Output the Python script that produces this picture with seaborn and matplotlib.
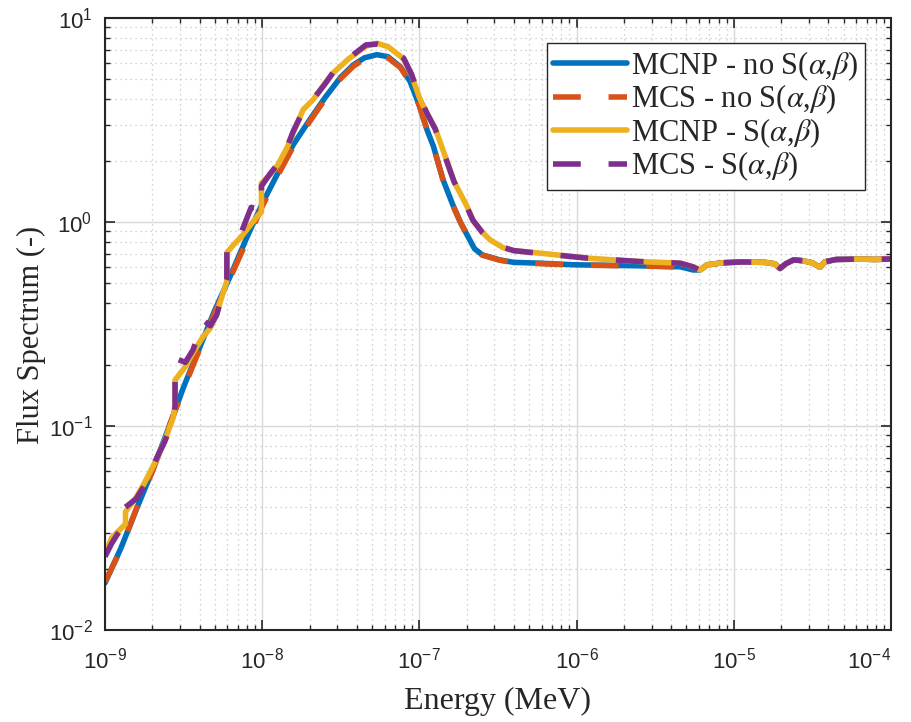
import matplotlib
matplotlib.use("Agg")
import matplotlib.pyplot as plt
import seaborn as sns
from matplotlib.ticker import FixedLocator, LogLocator, NullFormatter, LogFormatterSciNotation

# ---------------- data ----------------
# without S(alpha,beta)
E_nos = [1.00e-9, 1.26e-9, 1.58e-9, 2.00e-9, 2.51e-9, 3.16e-9, 3.98e-9, 5.01e-9,
         6.31e-9, 7.94e-9, 1.00e-8, 1.26e-8, 1.58e-8, 2.00e-8, 2.51e-8, 3.16e-8,
         3.80e-8, 4.47e-8, 5.37e-8, 6.31e-8, 7.59e-8, 8.71e-8, 1.00e-7, 1.12e-7,
         1.23e-7, 1.41e-7, 1.62e-7, 1.82e-7, 2.00e-7, 2.24e-7, 2.51e-7, 3.24e-7,
         3.98e-7, 5.89e-7, 9.55e-7, 2.51e-6, 4.57e-6, 5.50e-6, 6.10e-6, 6.76e-6,
         8.51e-6, 1.12e-5, 1.58e-5, 1.82e-5, 1.97e-5, 2.14e-5, 2.40e-5, 2.75e-5,
         3.16e-5, 3.53e-5, 3.80e-5, 4.47e-5, 6.31e-5, 7.94e-5, 1.00e-4]
flux_mcnp_nos = [0.0170, 0.0251, 0.0389, 0.0603, 0.0955, 0.155, 0.240, 0.372,
                 0.550, 0.832, 1.23, 1.74, 2.40, 3.16, 4.07, 5.13,
                 5.89, 6.38, 6.61, 6.46, 5.75, 4.90, 3.72, 2.82,
                 2.34, 1.62, 1.23, 1.00, 0.871, 0.740, 0.690, 0.652,
                 0.634, 0.628, 0.617, 0.610, 0.603, 0.582, 0.582, 0.617,
                 0.631, 0.637, 0.634, 0.624, 0.592, 0.624, 0.652, 0.646,
                 0.631, 0.600, 0.638, 0.655, 0.658, 0.655, 0.659]
flux_mcs_nos = [0.0172, 0.0248, 0.0392, 0.0598, 0.0960, 0.152, 0.236, 0.362,
                0.540, 0.800, 1.19, 1.70, 2.35, 3.10, 4.00, 5.05,
                5.80, 6.30, 6.50, 6.38, 5.70, 4.85, 3.70, 2.82,
                2.34, 1.62, 1.22, 1.00, 0.871, 0.742, 0.688, 0.650,
                0.632, 0.625, 0.615, 0.609, 0.602, 0.584, 0.580, 0.617,
                0.631, 0.637, 0.634, 0.624, 0.592, 0.624, 0.652, 0.646,
                0.631, 0.600, 0.638, 0.655, 0.658, 0.655, 0.659]

# with S(alpha,beta)
E_s = [1.00e-9, 1.10e-9, 1.20e-9, 1.35e-9, 1.35e-9, 1.58e-9, 1.78e-9, 2.14e-9,
       2.40e-9, 2.72e-9, 2.79e-9, 2.79e-9, 3.24e-9, 3.63e-9, 4.22e-9, 4.68e-9,
       5.13e-9, 5.62e-9, 5.96e-9, 5.96e-9, 6.61e-9, 7.41e-9, 8.51e-9, 9.33e-9,
       9.89e-9, 9.89e-9, 1.12e-8, 1.26e-8, 1.45e-8, 1.58e-8, 1.82e-8, 2.11e-8,
       2.51e-8, 2.82e-8, 3.55e-8, 4.57e-8, 5.37e-8, 6.31e-8, 7.94e-8, 8.91e-8,
       1.00e-7, 1.12e-7, 1.26e-7, 1.48e-7, 1.66e-7, 1.82e-7, 2.00e-7, 2.19e-7,
       2.51e-7, 2.82e-7, 3.39e-7, 3.98e-7, 5.89e-7, 1.20e-6, 2.51e-6, 4.57e-6,
       5.50e-6, 6.10e-6, 6.76e-6, 8.51e-6, 1.12e-5, 1.58e-5, 1.82e-5, 1.97e-5,
       2.14e-5, 2.40e-5, 2.75e-5, 3.16e-5, 3.53e-5, 3.80e-5, 4.47e-5, 6.31e-5,
       7.94e-5, 1.00e-4]
flux_mcnp_s = [0.0234, 0.0282, 0.0302, 0.0331, 0.0380, 0.0447, 0.0525, 0.0692,
               0.0851, 0.110, 0.126, 0.168, 0.195, 0.229, 0.275, 0.302,
               0.355, 0.447, 0.513, 0.708, 0.776, 0.851, 0.977, 1.07,
               1.12, 1.55, 1.70, 1.91, 2.34, 2.75, 3.55, 3.98,
               4.79, 5.37, 6.31, 7.28, 7.52, 7.24, 6.31, 5.25,
               4.07, 3.39, 2.88, 2.04, 1.58, 1.38, 1.20, 1.02,
               0.891, 0.817, 0.750, 0.724, 0.703, 0.664, 0.640, 0.628,
               0.603, 0.582, 0.617, 0.631, 0.637, 0.634, 0.624, 0.592,
               0.624, 0.652, 0.646, 0.631, 0.600, 0.638, 0.655, 0.658,
               0.655, 0.659]
flux_mcs_s = [0.0229, 0.0265, 0.0295, 0.0330, 0.0400, 0.0440, 0.0510, 0.0700,
              0.0840, 0.108, 0.125, 0.215, 0.205, 0.236, 0.330, 0.310,
              0.350, 0.450, 0.520, 0.740, 0.780, 0.900, 1.18, 1.16,
              1.14, 1.50, 1.72, 1.93, 2.36, 2.80, 3.50, 4.00,
              4.75, 5.40, 6.35, 7.38, 7.45, 7.20, 6.35, 5.30,
              4.10, 3.40, 2.86, 2.02, 1.58, 1.37, 1.19, 1.02,
              0.890, 0.815, 0.752, 0.724, 0.701, 0.664, 0.640, 0.628,
              0.603, 0.580, 0.617, 0.631, 0.637, 0.634, 0.624, 0.592,
              0.624, 0.652, 0.646, 0.631, 0.600, 0.638, 0.655, 0.658,
              0.655, 0.659]

labels = [r"MCNP - no S($\alpha$,$\beta$)", r"MCS - no S($\alpha$,$\beta$)",
          r"MCNP - S($\alpha$,$\beta$)", r"MCS - S($\alpha$,$\beta$)"]
colors = ["#0072BD", "#D95319", "#EDB120", "#7E2F8E"]
x_ticks = [1e-9, 1e-8, 1e-7, 1e-6, 1e-5, 1e-4]
y_ticks = [1e-2, 1e-1, 1e0, 1e1]
x_label = "Energy (MeV)"
y_label = "Flux Spectrum (-)"

# ---------------- style ----------------
sns.set_theme(style="ticks")
plt.rcParams["font.family"] = ["Liberation Serif", "DejaVu Serif"]
plt.rcParams["mathtext.fontset"] = "stix"
plt.rcParams["axes.unicode_minus"] = True

fig = plt.figure(figsize=(9.11, 7.22), dpi=100)
ax = fig.add_axes([105 / 911, 1 - 630 / 722, 786 / 911, 612 / 722])

series = [(E_nos, flux_mcnp_nos, False), (E_nos, flux_mcs_nos, True),
          (E_s, flux_mcnp_s, False), (E_s, flux_mcs_s, True)]
for (xs, ys, dashed), lab, col in zip(series, labels, colors):
    sns.lineplot(x=xs, y=ys, ax=ax, color=col, lw=4, label=lab,
                 estimator=None, sort=False, legend=False)
    line = ax.lines[-1]
    line.set_label(lab)
    if dashed:
        line.set_dashes((5, 5))
        line.set_dash_capstyle("butt")

ax.set_xscale("log")
ax.set_yscale("log")
ax.set_xlim(x_ticks[0], x_ticks[-1])
ax.set_ylim(y_ticks[0], y_ticks[-1])

ax.xaxis.set_major_locator(FixedLocator(x_ticks))
ax.yaxis.set_major_locator(FixedLocator(y_ticks))
ax.xaxis.set_major_formatter(LogFormatterSciNotation())
ax.yaxis.set_major_formatter(LogFormatterSciNotation())
ax.xaxis.set_minor_locator(LogLocator(base=10, subs=range(2, 10), numticks=100))
ax.yaxis.set_minor_locator(LogLocator(base=10, subs=range(2, 10), numticks=100))
ax.xaxis.set_minor_formatter(NullFormatter())
ax.yaxis.set_minor_formatter(NullFormatter())

ax.grid(True, which="major", color="#d9d9d9", lw=1.0, ls="-")
ax.grid(True, which="minor", color="#c4c4c4", lw=0.9, ls=(0, (1, 3)))
ax.set_axisbelow(True)

for sp in ax.spines.values():
    sp.set_visible(True)
    sp.set_color("#262626")
    sp.set_linewidth(1.5)

ax.tick_params(which="both", direction="in", top=True, right=True,
               color="#262626", labelcolor="#262626")
ax.tick_params(which="major", length=7, width=1.2, labelsize=16,
               labelfontfamily="Liberation Sans")
ax.tick_params(axis="x", which="major", pad=13)
ax.tick_params(axis="y", which="major", pad=9)
ax.tick_params(which="minor", length=3.5, width=1.0)

ax.set_xlabel(x_label, fontsize=23, color="#262626", labelpad=9)
ax.set_ylabel(y_label, fontsize=22, color="#262626")
ax.yaxis.set_label_coords(-0.075, 0.482)

fig.canvas.draw()
last = ax.xaxis.get_major_ticks()[-1].label1
last.set_horizontalalignment("right")

leg = ax.legend(loc="upper right", bbox_to_anchor=(0.967, 0.959),
                borderaxespad=0, fontsize=22, frameon=True, fancybox=False,
                handlelength=2.4, handletextpad=0.15, borderpad=0.2,
                labelspacing=0.0)
leg.get_frame().set_edgecolor("#262626")
leg.get_frame().set_linewidth(1.0)
leg.get_frame().set_alpha(1)

fig.savefig("out.png", dpi=100)
